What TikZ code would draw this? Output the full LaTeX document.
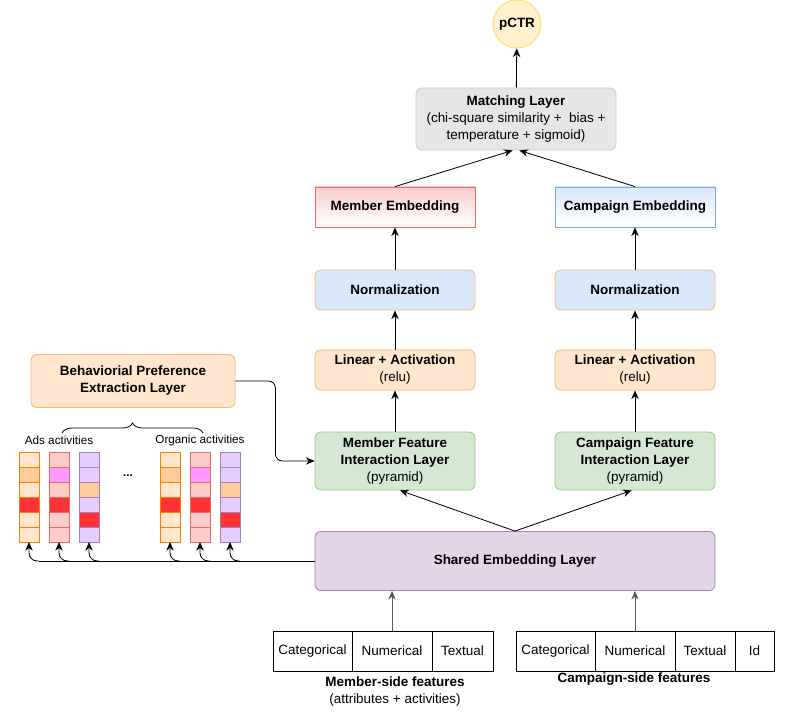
\documentclass[tikz,border=0pt]{standalone}
\usepackage{fontspec}
\setmainfont{Liberation Sans}
\usetikzlibrary{arrows.meta,positioning,decorations.pathreplacing}
\definecolor{ctryel}{HTML}{FFF2CC}
\definecolor{ctryeld}{HTML}{FFD966}
\definecolor{mgray}{HTML}{E6E6E6}
\definecolor{mgrayd}{HTML}{CCCCCC}
\definecolor{lpink}{HTML}{F8CECC}
\definecolor{dpink}{HTML}{EA6B66}
\definecolor{lblue}{HTML}{DAE8FC}
\definecolor{dblue}{HTML}{7EA6E0}
\definecolor{lorange}{HTML}{FFE6CC}
\definecolor{dorange}{HTML}{FFB570}
\definecolor{lgreen}{HTML}{D5E8D4}
\definecolor{dgreen}{HTML}{97D077}
\definecolor{lpurple}{HTML}{E1D5E7}
\definecolor{dpurple}{HTML}{A680B8}
\definecolor{corange}{HTML}{FF8000}
\definecolor{cpeach}{HTML}{FFCC99}
\definecolor{cred}{HTML}{FF3333}
\definecolor{cpink}{HTML}{FFCCCC}
\definecolor{cmag}{HTML}{FF99FF}
\definecolor{clav}{HTML}{E5CCFF}
\newcommand{\mainsz}{\fontsize{11.5}{14.5}\selectfont}
\newcommand{\smallsz}{\fontsize{10}{12}\selectfont}
\newcommand{\actcol}[4]{%
  \foreach \f [count=\i] in {#4}
    \node[cell,draw=#3,fill=\f] (#1-\i) at (#2,{444.5+15*\i}) {};}

\begin{document}
\begin{tikzpicture}[x=0.03cm,y=-0.03cm,
    box/.style={draw,rounded corners=5pt,minimum width=4.8cm,minimum height=1.2cm,align=center,font=\mainsz,line width=0.7pt},
    emb/.style={box,rounded corners=0pt},
    fcell/.style={draw,minimum height=1.2cm,inner sep=0pt,outer sep=0pt,font=\mainsz,line width=0.7pt},
    cell/.style={minimum width=0.6cm,minimum height=0.45cm,inner sep=0pt,outer sep=0pt,line width=0.8pt},
    lbl/.style={font=\smallsz,inner sep=1pt},
    arr/.style={-{Stealth[length=2.6mm,width=2.2mm]},line width=0.7pt}]
  \useasboundingbox (0,0) rectangle (787,712);

  \node[circle,draw=ctryeld,fill=ctryel,minimum size=1.44cm,font=\mainsz\bfseries,line width=0.7pt] (pctr) at (517,24) {pCTR};
  \node[box,draw=mgrayd,fill=mgray,minimum width=6cm,minimum height=1.86cm] (match) at (516,119)
    {\textbf{Matching Layer}\\(chi-square similarity + \ bias +\\temperature + sigmoid)};

  \node[emb,draw=dpink,top color=lpink,bottom color=white] (memb) at (395,207) {\textbf{Member Embedding}};
  \node[emb,draw=dblue,top color=lblue,bottom color=white] (camb) at (635,207) {\textbf{Campaign Embedding}};
  \node[box,draw=dorange,fill=lblue] (mnorm) at (395,290) {\textbf{Normalization}};
  \node[box,draw=dorange,fill=lblue] (cnorm) at (635,290) {\textbf{Normalization}};
  \node[box,draw=dorange,fill=lorange] (mlin) at (395,370) {\textbf{Linear + Activation}\\(relu)};
  \node[box,draw=dorange,fill=lorange] (clin) at (635,370) {\textbf{Linear + Activation}\\(relu)};
  \node[box,draw=dgreen,fill=lgreen,minimum height=1.74cm] (mfi) at (395,461)
    {\textbf{Member Feature}\\\textbf{Interaction Layer}\\(pyramid)};
  \node[box,draw=dgreen,fill=lgreen,minimum height=1.74cm] (cfi) at (635,461)
    {\textbf{Campaign Feature}\\\textbf{Interaction Layer}\\(pyramid)};
  \node[box,draw=dpurple,fill=lpurple,minimum width=12cm,minimum height=1.77cm] (shared) at (515,561)
    {\textbf{Shared Embedding Layer}};

  \node[box,draw=dorange,fill=lorange,minimum width=6.12cm,minimum height=1.59cm] (beh) at (133,381)
    {\textbf{Behaviorial Preference}\\\textbf{Extraction Layer}};
  \coordinate (brl) at (62,433);
  \coordinate (brr) at (203,433);
  \draw[decorate,decoration={brace,amplitude=0.3cm},line width=0.7pt] (brl) -- (brr);
  \node[lbl] (adslbl) at (59,440) {Ads activities};
  \node[lbl] (orglbl) at (200,440) {Organic activities};

  \actcol{a1}{29}{corange}{lorange,cpeach,lorange,cred,lorange,lorange}
  \actcol{a2}{59}{dpink}{cpink,cmag,cpink,cred,cpink,cpink}
  \actcol{a3}{89}{dpurple}{clav,clav,cpeach,clav,cred,clav}
  \actcol{o1}{170}{corange}{lorange,cpeach,lorange,cred,lorange,lorange}
  \actcol{o2}{200}{dpink}{cpink,cmag,cpink,cred,cpink,cpink}
  \actcol{o3}{230}{dpurple}{clav,clav,cpeach,clav,cred,clav}
  \node[font=\smallsz\bfseries] (dots) at (128,476) {...};

  \node[fcell,minimum width=2.37cm] (mcat) at (312.5,651) {Categorical};
  \node[fcell,minimum width=2.4cm,right=0pt of mcat] (mnum) {Numerical};
  \node[fcell,minimum width=1.83cm,right=0pt of mnum] (mtxt) {Textual};
  \node[fcell,minimum width=2.37cm] (ccat) at (555.5,651) {Categorical};
  \node[fcell,minimum width=2.4cm,right=0pt of ccat] (cnum) {Numerical};
  \node[fcell,minimum width=1.8cm,right=0pt of cnum] (ctxt) {Textual};
  \node[fcell,minimum width=1.17cm,right=0pt of ctxt] (cid) {Id};
  \node[align=center,font=\mainsz,inner sep=0pt] (mlbl) at (395,692)
    {\textbf{Member-side features}\\(attributes + activities)};
  \node[font=\mainsz\bfseries,inner sep=0pt] (clbl) at (634,679) {Campaign-side features};

  \draw[arr] (match) -- (pctr);
  \draw[arr] (memb.north) -- ([xshift=-0.1cm]match.south);
  \draw[arr] (camb.north) -- ([xshift=0.1cm]match.south);
  \draw[arr] (mnorm) -- (memb);
  \draw[arr] (cnorm) -- (camb);
  \draw[arr] (mlin) -- (mnorm);
  \draw[arr] (clin) -- (cnorm);
  \draw[arr] (mfi) -- (mlin);
  \draw[arr] (cfi) -- (clin);
  \draw[arr] (shared.north) -- ([xshift=0.15cm]mfi.south);
  \draw[arr] (shared.north) -- ([xshift=-0.1cm]cfi.south);
  \draw[arr,rounded corners=6pt] (beh.east) -- ++(40,0) |- (mfi.west);
  \draw[line width=0.7pt] (shared.west) -- ([xshift=0.3cm]a1-6.south |- shared.west);
  \foreach \c in {a1,a2,a3,o1,o2,o3}
    \draw[arr,rounded corners=7pt] ([xshift=0.3cm]\c-6.south |- shared.west) -| (\c-6.south);
  \draw[arr,draw=black!65] (mnum.north) -- (mnum.north |- shared.south);
  \draw[arr,draw=black!65] (cnum.north) -- (cnum.north |- shared.south);
\end{tikzpicture}
\end{document}
